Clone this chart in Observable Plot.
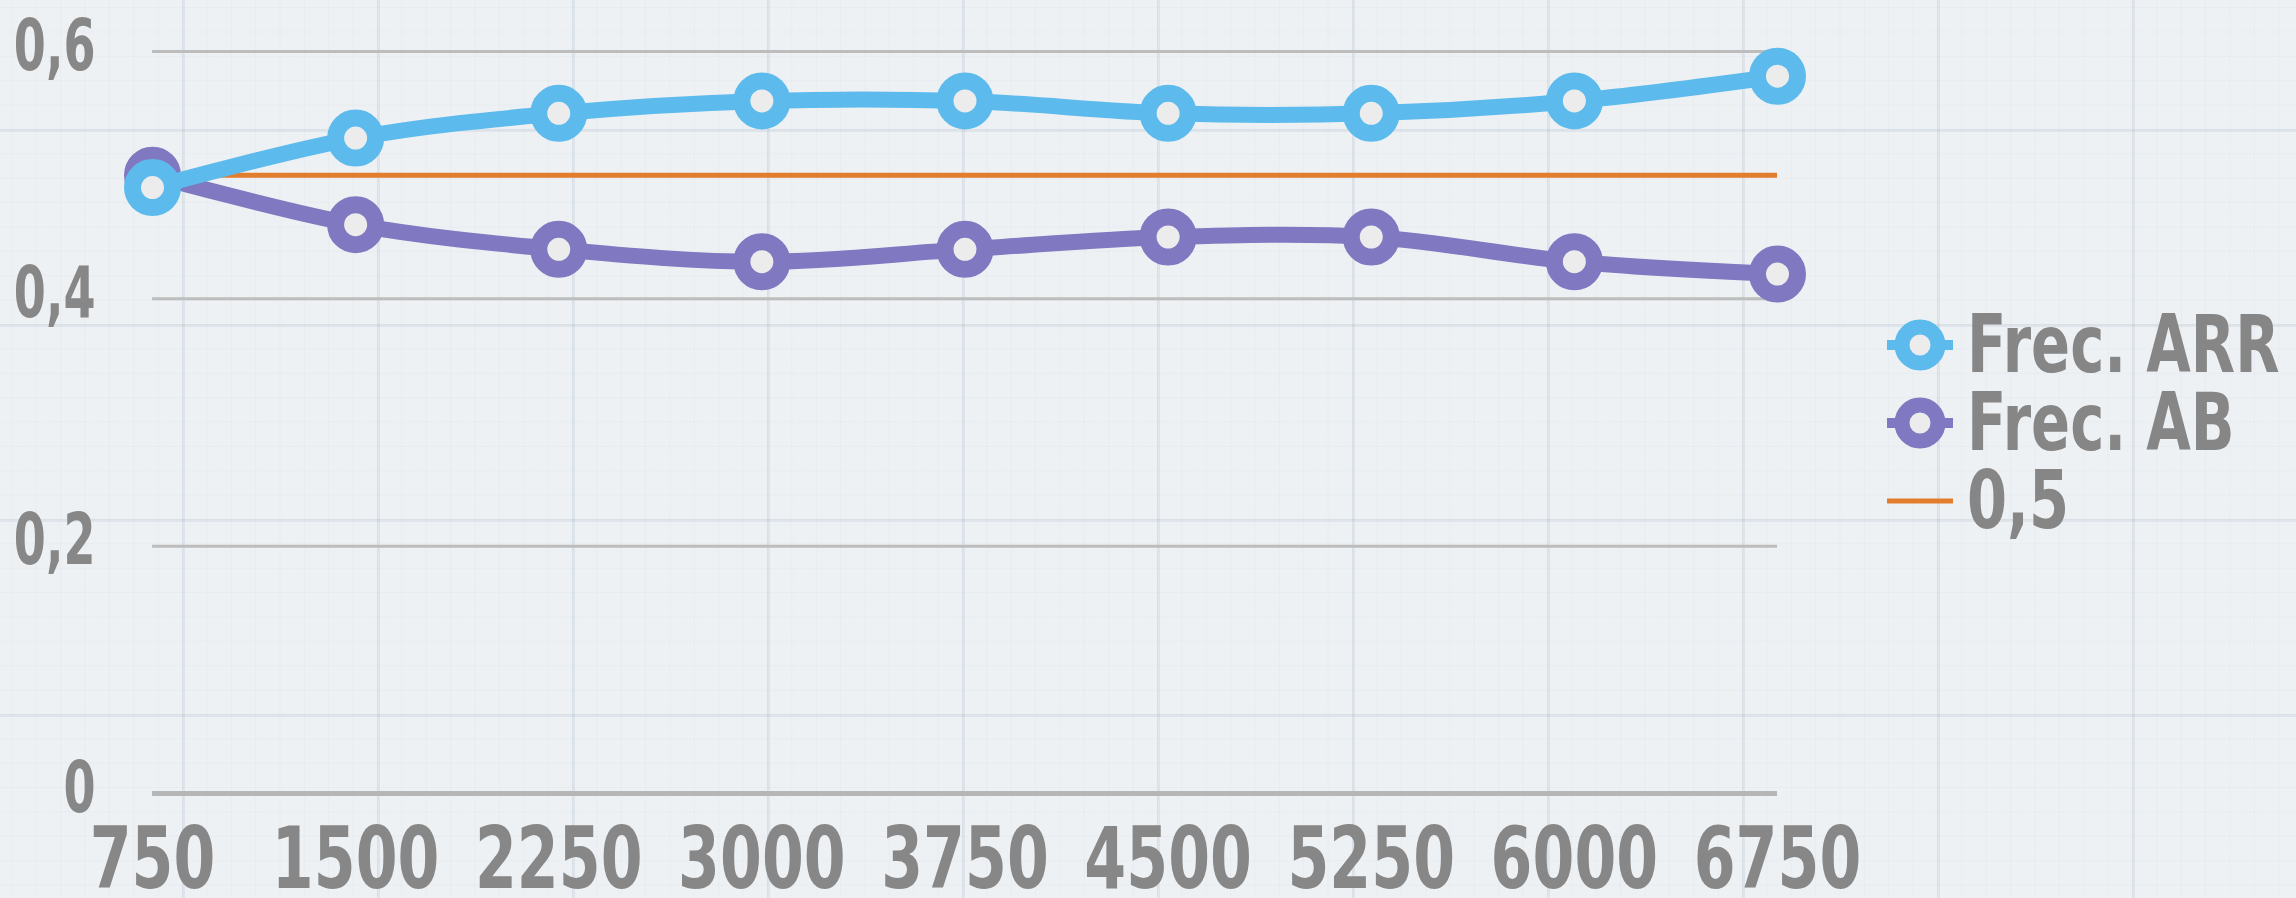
<!DOCTYPE html>
<html>
<head>
<meta charset="utf-8">
<script src="https://cdn.jsdelivr.net/npm/d3@7"></script>
<script src="https://cdn.jsdelivr.net/npm/@observablehq/plot@0.6"></script>
<style>
  html, body { margin: 0; padding: 0; }
  body {
    width: 2296px; height: 898px; overflow: hidden; position: relative;
    background-color: #eef1f4;
    background-image:
      linear-gradient(to right, rgba(165,185,200,0.22) 0, rgba(165,185,200,0.22) 3px, transparent 3px),
      linear-gradient(to bottom, rgba(165,185,200,0.22) 0, rgba(165,185,200,0.22) 3px, transparent 3px),
      linear-gradient(to right, rgba(175,188,200,0.10) 0, rgba(175,188,200,0.10) 1px, transparent 1px),
      linear-gradient(to bottom, rgba(175,188,200,0.10) 0, rgba(175,188,200,0.10) 1px, transparent 1px);
    background-size: 195px 195px, 195px 195px, 24.375px 24.375px, 24.375px 24.375px;
    background-position: 182px 129px, 182px 129px, 182px 129px, 182px 129px;
    font-family: "DejaVu Sans", sans-serif;
  }
  #chart { position: absolute; left: 0; top: 0; }
  #legend { position: absolute; left: 1887px; top: 306px; }
  .row { display: flex; align-items: center; height: 78px; white-space: nowrap; }
  .row svg { flex: none; }
  .row span { display: inline-block; margin-left: 14px; font-size: 80px; font-weight: bold; color: #868686;
    line-height: 78px; transform: scaleX(0.72); transform-origin: left center; }
</style>
</head>
<body>
<div id="chart"></div>
<div id="legend"></div>
<script>
const xValues = [750, 1500, 2250, 3000, 3750, 4500, 5250, 6000, 6750];
const frecARR = [0.49, 0.53, 0.55, 0.56, 0.56, 0.55, 0.55, 0.56, 0.58];
const frecAB  = [0.50, 0.46, 0.44, 0.43, 0.44, 0.45, 0.45, 0.43, 0.42];
const refValue = 0.5;
const yTicks = [0, 0.2, 0.4, 0.6];
const seriesNames = ["Frec. ARR", "Frec. AB", "0,5"];
const seriesColors = ["#5dbaec", "#8078c0", "#e27d2e"];

const ink = "#878787";
const markerFill = "#ececec";
const fontFamily = '"DejaVu Sans", sans-serif';

const lineData = (vals) => xValues.map((x, i) => ({x, y: vals[i]}));
const dataARR = lineData(frecARR);
const dataAB = lineData(frecAB);

const chart = Plot.plot({
  width: 2296,
  height: 898,
  marginLeft: 152,
  marginRight: 519,
  marginTop: 51,
  marginBottom: 105,
  style: {background: "transparent", fontFamily, overflow: "visible"},
  x: {type: "linear", domain: [750, 6750]},
  y: {domain: [0, 0.6]},
  marks: [
    Plot.ruleY(yTicks.filter(d => d !== 0), {stroke: "#bdbdbd", strokeWidth: 3}),
    Plot.ruleY([0], {stroke: "#b6b6b6", strokeWidth: 5}),
    Plot.ruleY([refValue], {stroke: seriesColors[2], strokeWidth: 5}),
    Plot.line(dataAB, {x: "x", y: "y", stroke: seriesColors[1], strokeWidth: 16, curve: "catmull-rom"}),
    Plot.dot(dataAB, {x: "x", y: "y", r: 20, stroke: seriesColors[1], strokeWidth: 17, fill: markerFill}),
    Plot.line(dataARR, {x: "x", y: "y", stroke: seriesColors[0], strokeWidth: 16, curve: "catmull-rom"}),
    Plot.dot(dataARR, {x: "x", y: "y", r: 20, stroke: seriesColors[0], strokeWidth: 17, fill: markerFill}),
    Plot.axisX({ticks: xValues, tickFormat: d => String(d), tickSize: 0, tickPadding: 33,
      fontSize: 86, fontWeight: "bold", fill: ink, label: null, ariaLabel: "x-axis"}),
    Plot.axisY({ticks: yTicks, tickFormat: d => String(d).replace(".", ","), tickSize: 0, tickPadding: 57,
      fontSize: 72, fontWeight: "bold", fill: ink, dy: -5, label: null, ariaLabel: "y-axis"})
  ]
});
document.getElementById("chart").appendChild(chart);

// Narrow the tick labels horizontally around their anchor (the original uses a tall, narrow face)
function squeeze(selector, s, anchor) {
  chart.querySelectorAll(selector).forEach(t => {
    const b = t.getBBox();
    const ax = anchor === "end" ? b.x + b.width : b.x + b.width / 2;
    const ay = b.y + b.height / 2;
    const tr = t.getAttribute("transform") || "";
    t.setAttribute("transform", `${tr} translate(${ax},${ay}) scale(${s},1) translate(${-ax},${-ay})`);
  });
}
squeeze('g[aria-label^="x-axis"] text', 0.7, "middle");
squeeze('g[aria-label^="y-axis"] text', 0.64, "end");

// Legend (HTML overlay)
const legend = document.getElementById("legend");
seriesNames.forEach((name, i) => {
  const row = document.createElement("div");
  row.className = "row";
  const isRef = i === 2;
  const sw = isRef
    ? `<svg width="66" height="62"><line x1="0" x2="66" y1="31" y2="31" stroke="${seriesColors[i]}" stroke-width="5"/></svg>`
    : `<svg width="66" height="62"><line x1="0" x2="66" y1="31" y2="31" stroke="${seriesColors[i]}" stroke-width="10"/><circle cx="33" cy="31" r="18" fill="${markerFill}" stroke="${seriesColors[i]}" stroke-width="15"/></svg>`;
  row.innerHTML = sw + `<span>${name}</span>`;
  legend.appendChild(row);
});
</script>
</body>
</html>
